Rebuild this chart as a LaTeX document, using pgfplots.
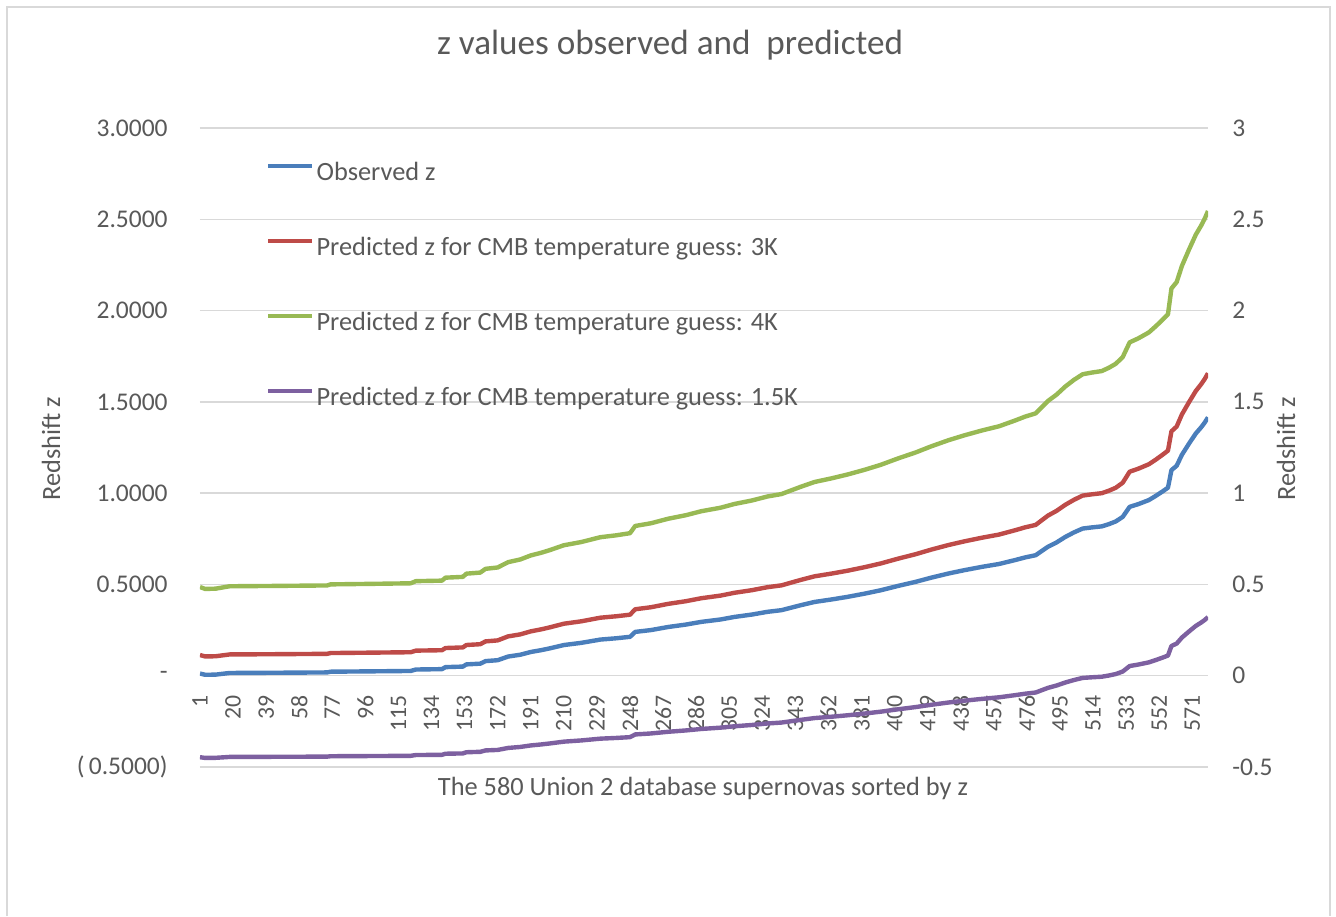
\documentclass[border=0pt]{standalone}
\usepackage{pgfplots}
\pgfplotsset{compat=1.18}
\usepackage{pgfplotstable}
\usepackage{fontspec}
\setmainfont{Carlito}
\definecolor{txt}{HTML}{595959}
\definecolor{gridc}{HTML}{D9D9D9}
\definecolor{cblue}{HTML}{4A7EBB}
\definecolor{cred}{HTML}{BE4B48}
\definecolor{cgreen}{HTML}{98B954}
\definecolor{cpurple}{HTML}{7D60A0}

\pgfplotstableread{
i z r g p
1 0.012 0.1132 0.4856 -0.4464
4 0.005 0.1055 0.4753 -0.4503
10 0.006 0.1066 0.4768 -0.4497
18 0.015 0.1165 0.4900 -0.4448
40 0.016 0.1176 0.4915 -0.4442
74 0.018 0.1198 0.4944 -0.4432
76 0.022 0.1242 0.5003 -0.4410
100 0.024 0.1264 0.5032 -0.4399
122 0.026 0.1286 0.5062 -0.4388
125 0.034 0.1374 0.5179 -0.4344
140 0.036 0.1396 0.5208 -0.4333
142 0.047 0.1517 0.5370 -0.4273
152 0.050 0.1550 0.5414 -0.4257
154 0.062 0.1682 0.5590 -0.4191
162 0.066 0.1726 0.5649 -0.4169
165 0.080 0.1880 0.5854 -0.4092
172 0.085 0.1935 0.5928 -0.4065
178 0.105 0.2155 0.6221 -0.3956
185 0.115 0.2265 0.6368 -0.3901
191 0.130 0.2430 0.6588 -0.3819
197 0.140 0.2540 0.6735 -0.3764
202 0.150 0.2650 0.6882 -0.3710
210 0.168 0.2848 0.7146 -0.3611
220 0.180 0.2980 0.7322 -0.3545
231 0.198 0.3178 0.7587 -0.3447
240 0.205 0.3255 0.7689 -0.3409
248 0.213 0.3343 0.7807 -0.3365
251 0.240 0.3640 0.8203 -0.3217
260 0.250 0.3750 0.8350 -0.3163
270 0.267 0.3937 0.8600 -0.3070
280 0.280 0.4080 0.8790 -0.2998
289 0.295 0.4245 0.9011 -0.2916
300 0.308 0.4388 0.9201 -0.2845
308 0.322 0.4542 0.9407 -0.2769
318 0.335 0.4685 0.9598 -0.2698
327 0.350 0.4850 0.9818 -0.2616
335 0.359 0.4949 0.9950 -0.2566
346 0.386 0.5246 1.0346 -0.2419
354 0.404 0.5444 1.0611 -0.2320
364 0.418 0.5598 1.0816 -0.2244
373 0.432 0.5752 1.1022 -0.2167
383 0.450 0.5950 1.1286 -0.2069
392 0.468 0.6148 1.1550 -0.1970
402 0.492 0.6412 1.1903 -0.1839
412 0.514 0.6654 1.2226 -0.1718
421 0.537 0.6907 1.2563 -0.1593
431 0.560 0.7160 1.2901 -0.1467
440 0.578 0.7358 1.3165 -0.1368
450 0.596 0.7556 1.3429 -0.1270
460 0.612 0.7732 1.3664 -0.1182
469 0.633 0.7963 1.3972 -0.1067
475 0.648 0.8128 1.4193 -0.0985
481 0.660 0.8260 1.4369 -0.0920
488 0.706 0.8766 1.5044 -0.0668
493 0.730 0.9030 1.5396 -0.0537
498 0.760 0.9360 1.5837 -0.0373
503 0.785 0.9635 1.6204 -0.0236
508 0.806 0.9866 1.6512 -0.0121
513 0.812 0.9932 1.6600 -0.0088
519 0.818 0.9998 1.6688 -0.0055
523 0.830 1.0130 1.6864 0.0010
527 0.845 1.0295 1.7085 0.0092
531 0.870 1.0570 1.7452 0.0229
535 0.925 1.1175 1.8259 0.0530
540 0.940 1.1340 1.8479 0.0612
546 0.962 1.1582 1.8802 0.0732
550 0.985 1.1835 1.9140 0.0858
554 1.010 1.2110 1.9507 0.0995
557 1.030 1.2330 1.9800 0.1104
559 1.126 1.3386 2.1210 0.1629
562 1.150 1.3650 2.1562 0.1761
565 1.210 1.4310 2.2443 0.2089
569 1.270 1.4970 2.3324 0.2417
573 1.327 1.5597 2.4161 0.2729
576 1.360 1.5960 2.4645 0.2909
578 1.385 1.6235 2.5012 0.3046
580 1.415 1.6565 2.5452 0.3210
}\data

\begin{document}
\begin{tikzpicture}
\path[use as bounding box] (0,0) rectangle (26.72,18.32);
\draw[gridc, line width=0.04cm] (0.14,0) -- (0.14,18.18) -- (26.6,18.18) -- (26.6,0);
\begin{axis}[
  at={(4cm,2.98cm)}, anchor=south west,
  scale only axis, width=20.16cm, height=12.78cm,
  xmin=1, xmax=580, ymin=-0.5, ymax=3,
  axis x line=middle, axis y line=left,
  x axis line style={draw=gridc, line width=0.85pt, -},
  y axis line style={draw=none},
  hide obscured x ticks=false,
  major tick length=0pt,
  ymajorgrids, major grid style={draw=gridc, line width=0.85pt},
  xtick={1,20,39,58,77,96,115,134,153,172,191,210,229,248,267,286,305,324,343,362,381,400,419,438,457,476,495,514,533,552,571},
  ytick={-0.5,0,0.5,1,1.5,2,2.5,3},
  yticklabels={{(\,0.5000)\hspace{-0.14cm}},{-\hspace{0.22cm}},0.5000,1.0000,1.5000,2.0000,2.5000,3.0000},
  /pgf/number format/assume math mode=true,
  xticklabel style={font=\fontsize{13.5}{13.5}\selectfont, text=txt, rotate=90, anchor=east, inner sep=0pt},
  xticklabel shift=0.38cm,
  yticklabel style={font=\fontsize{14.5}{14.5}\selectfont, text=txt, anchor=east, inner sep=0pt, xshift=-0.64cm},
  title={z values observed and\ \ predicted},
  every axis title/.style={at={(axis description cs:0.4663,1.1299)}, anchor=center, font=\fontsize{20}{20}\selectfont, text=txt},
  xlabel={The 580 Union 2 database supernovas sorted by z},
  every axis x label/.style={at={(axis description cs:0.499,-0.0329)}, anchor=center, font=\fontsize{15}{15}\selectfont, text=txt},
  ylabel={Redshift z},
  every axis y label/.style={at={(axis description cs:-0.1478,0.4977)}, rotate=90, anchor=center, font=\fontsize{15}{15}\selectfont, text=txt},
  legend style={at={(axis description cs:0.0655,0.946)}, anchor=north west, draw=none, fill=none, inner sep=0pt, row sep=1.05cm, column sep=0.04cm, font=\fontsize{15}{15}\selectfont, text=txt, nodes={inner sep=0pt, text height=0.35cm, text depth=0.1cm}},
  legend cell align=left,
  legend image code/.code={\draw[#1, line width=2.4pt] (0cm,0.16cm) -- (0.88cm,0.16cm);},
]
\addplot[cblue, line width=2.5pt, line join=round] table[x=i, y=z] {\data};
\addlegendentry{Observed z}
\addplot[cred, line width=2.5pt, line join=round] table[x=i, y=r] {\data};
\addlegendentry{Predicted z for CMB temperature guess: 3K}
\addplot[cgreen, line width=2.5pt, line join=round] table[x=i, y=g] {\data};
\addlegendentry{Predicted z for CMB temperature guess: 4K}
\addplot[cpurple, line width=2.5pt, line join=round] table[x=i, y=p] {\data};
\addlegendentry{Predicted z for CMB temperature guess: 1.5K}
\end{axis}
\begin{axis}[
  at={(4cm,2.98cm)}, anchor=south west,
  scale only axis, width=20.16cm, height=12.78cm,
  xmin=1, xmax=580, ymin=-0.5, ymax=3,
  axis y line*=right, axis x line=none,
  y axis line style={draw=none},
  major tick length=0pt,
  xtick=\empty,
  ytick={-0.5,0,0.5,1,1.5,2,2.5,3},
  yticklabels={-0.5,0,0.5,1,1.5,2,2.5,3},
  yticklabel style={font=\fontsize{14.5}{14.5}\selectfont, text=txt, anchor=west, inner sep=0pt, xshift=0.48cm},
  ylabel={Redshift z},
  every axis y label/.style={at={(axis description cs:1.0774,0.4977)}, rotate=90, anchor=center, font=\fontsize{15}{15}\selectfont, text=txt},
]
\end{axis}
\end{tikzpicture}
\end{document}
